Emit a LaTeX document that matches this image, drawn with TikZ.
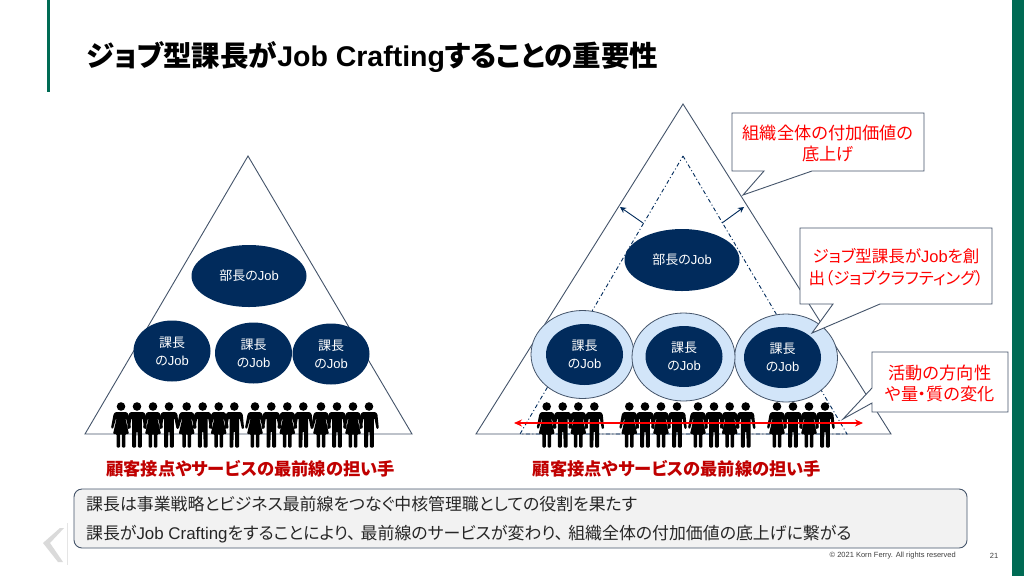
\documentclass[tikz,border=0pt]{standalone}
\usepackage{fontspec}
\setmainfont{Liberation Sans}
\newfontfamily\jpfont[RawFeature=+palt]{Noto Sans CJK JP}
\usetikzlibrary{shapes.geometric, arrows.meta, positioning}
\newcommand{\jt}[1]{{\jpfont #1}}
\newcommand{\fsz}[2]{\fontsize{#1}{#2}\selectfont}
\definecolor{kfgreen}{HTML}{006B54}
\definecolor{slateline}{HTML}{44546A}
\definecolor{navyjob}{HTML}{012B5C}
\definecolor{ringblue}{HTML}{D2E5F9}
\definecolor{darkred}{HTML}{C00000}
\definecolor{boxgray}{HTML}{F2F2F2}
\definecolor{chevgray}{HTML}{DADADA}
\tikzset{
    manfig/.pic={
        \fill[black] (0,0) circle (4.3);
        \fill[black, rounded corners=1pt] (-6.5,5.5) -- (6.5,5.5) -- (8.4,7.5) -- (9.8,22) -- (7.6,22.6) -- (5.4,11.5) -- (4.8,11.5) -- (4.8,41) -- (0.9,41) -- (0.7,25) -- (-0.7,25) -- (-0.9,41) -- (-4.8,41) -- (-4.8,11.5) -- (-5.4,11.5) -- (-7.6,22.6) -- (-9.8,22) -- (-8.4,7.5) -- cycle;
    },
    womanfig/.pic={
        \fill[black] (0,0) circle (4.3);
        \fill[black, rounded corners=1pt] (-5.5,5.5) -- (5.5,5.5) -- (7.4,7.5) -- (10,21.5) -- (8,22.5) -- (5,12) -- (4.4,12) -- (8,27.5) -- (4.4,27.5) -- (4.4,41) -- (0.9,41) -- (0.9,27.5) -- (-0.9,27.5) -- (-0.9,41) -- (-4.4,41) -- (-4.4,27.5) -- (-8,27.5) -- (-4.4,12) -- (-5,12) -- (-8,22.5) -- (-10,21.5) -- (-7.4,7.5) -- cycle;
    }
}
\begin{document}
\begin{tikzpicture}[
    x=1pt, y=-1pt,
    pyramid/.style={draw=slateline, line width=0.9pt, line join=miter},
    innerpyramid/.style={draw=navyjob, line width=0.9pt, dash pattern=on 4pt off 2.5pt on 1pt off 2.5pt},
    growarrow/.style={-{Stealth[length=6pt, width=6pt]}, draw=navyjob, line width=0.9pt},
    jobellipse/.style={ellipse, fill=navyjob, text=white, inner sep=0pt, align=center, font=\fsz{13}{18}},
    ringellipse/.style={ellipse, draw=slateline, fill=ringblue, line width=0.8pt, inner sep=0pt, minimum width=103pt, minimum height=88pt},
    frontlabel/.style={text=darkred, font=\fsz{17.3}{20}\bfseries},
    calloutbox/.style={draw=slateline, fill=white, line width=0.9pt, line join=miter},
    callouttext/.style={text=red, align=center, font=\fsz{17.2}{21.5}},
    summaryline/.style={anchor=west, inner sep=0pt, text=black!85, font=\fsz{16.9}{20}}
]
    \useasboundingbox (0,0) rectangle (1024,576);
    \fill[white] (0,0) rectangle (1024,576);

    % slide frame
    \fill[kfgreen] (47,0) rectangle (49.7,92);
    \fill[kfgreen] (1012,0) rectangle (1024,576);
    \node[anchor=west, inner sep=0pt, font=\fsz{28.5}{30}\bfseries] (title) at (86,57) {\jt{ジョブ型課長が}Job Crafting\jt{することの重要性}};

    % left pyramid
    \coordinate (ltop) at (248,156);
    \coordinate (lleft) at (85,434);
    \coordinate (lright) at (412,434);
    \draw[pyramid] (ltop) -- (lright) -- (lleft) -- cycle;
    \node[jobellipse, minimum width=115pt, minimum height=62pt] (lbucho) at (249,276) {\jt{部長の}Job};
    \node[jobellipse, minimum width=77pt, minimum height=61pt] (lka1) at (172,351) {\jt{課長}\\\jt{の}Job};
    \node[jobellipse, minimum width=77pt, minimum height=61pt] (lka2) at (253.5,353) {\jt{課長}\\\jt{の}Job};
    \node[jobellipse, minimum width=77pt, minimum height=61pt] (lka3) at (331,354) {\jt{課長}\\\jt{の}Job};
    \foreach \px in {121,153,186.7,218.7,255,287.3,321,353}
        \pic at (\px,406.5) {womanfig};
    \foreach \px in {137,169,202.7,234.3,271.3,303.3,337,369}
        \pic at (\px,406.5) {manfig};
    \node[frontlabel] (llabel) at (250.5,469) {\jt{顧客接点やサービスの最前線の担い手}};

    % right pyramid
    \coordinate (rtop) at (683,104);
    \coordinate (rleft) at (476,434);
    \coordinate (rright) at (891,434);
    \draw[pyramid] (rtop) -- (rright) -- (rleft) -- cycle;
    \coordinate (itop) at (683,156);
    \coordinate (ileft) at (520,434);
    \coordinate (iright) at (847,434);
    \draw[innerpyramid] (itop) -- (iright) -- (ileft) -- cycle;
    \coordinate (gl1) at (643,223);
    \coordinate (gl2) at (620,207);
    \coordinate (gr1) at (722,223);
    \coordinate (gr2) at (744,207);
    \draw[growarrow] (gl1) -- (gl2);
    \draw[growarrow] (gr1) -- (gr2);
    \node[jobellipse, minimum width=115pt, minimum height=62pt] (rbucho) at (682,260) {\jt{部長の}Job};
    \node[ringellipse] (ring1) at (582.5,354.5) {};
    \node[ringellipse] (ring3) at (786,358) {};
    \node[ringellipse] (ring2) at (683.5,357) {};
    \node[jobellipse, minimum width=77pt, minimum height=61pt] (rka1) at (584.5,354.5) {\jt{課長}\\\jt{の}Job};
    \node[jobellipse, minimum width=77pt, minimum height=61pt] (rka2) at (684,356.5) {\jt{課長}\\\jt{の}Job};
    \node[jobellipse, minimum width=77pt, minimum height=61pt] (rka3) at (782.5,357.5) {\jt{課長}\\\jt{の}Job};
    \foreach \px in {546.7,578.3,629.3,661,698,729.7,777,809}
        \pic at (\px,406.5) {womanfig};
    \foreach \px in {562.7,594.3,645,677,714,745.7,793,825}
        \pic at (\px,406.5) {manfig};
    \coordinate (redl) at (514,423);
    \coordinate (redr) at (863,423);
    \draw[{Stealth[length=8pt, width=7pt]}-{Stealth[length=8pt, width=7pt]}, draw=red, line width=1.2pt] (redl) -- (redr);
    \node[frontlabel] (rlabel) at (677,469) {\jt{顧客接点やサービスの最前線の担い手}};

    % callouts
    \draw[calloutbox] (732,113) -- (924,113) -- (924,171) -- (812,171) -- (743,195) -- (764,171) -- (732,171) -- cycle;
    \node[callouttext] (call1) at (828,143.5) {\jt{組織全体の付加価値の}\\\jt{底上げ}};
    \draw[calloutbox] (800,228) -- (992,228) -- (992,304) -- (880,304) -- (812,333) -- (833,304) -- (800,304) -- cycle;
    \node[callouttext, font=\fsz{16.5}{21.5}] (call2) at (896,267) {\jt{ジョブ型課長が}Job\jt{を創}\\\jt{出（ジョブクラフティング）}};
    \draw[calloutbox] (872,352) -- (1008,352) -- (1008,412) -- (872,412) -- (872,403) -- (843,419) -- (872,388) -- cycle;
    \node[callouttext] (call3) at (940,383.5) {\jt{活動の方向性}\\\jt{や量・質の変化}};

    % summary box
    \node[draw=slateline, fill=boxgray, rounded corners=8pt, line width=0.9pt, minimum width=893pt, minimum height=59pt, inner sep=0pt] (summary) at (520.5,518.5) {};
    \node[summaryline] (sum1) at (86,504) {\jt{課長は事業戦略とビジネス最前線をつなぐ中核管理職としての役割を果たす}};
    \node[summaryline] (sum2) at (86,534) {\jt{課長が}Job Crafting\jt{をすることにより、\hspace{5pt}最前線のサービスが変わり、\hspace{5pt}組織全体の付加価値の底上げに繋がる}};

    % footer
    \fill[chevgray] (60,528) -- (43,543) -- (58,562) -- (63,562) -- (50,543) -- (64,528) -- cycle;
    \draw[chevgray!70, line width=0.5pt] (67.7,523) -- (67.7,565);
    \node[anchor=east, inner sep=0pt, text=black!75, font=\fsz{7.5}{8}] (copy) at (956,556) {© 2021 Korn Ferry. All rights reserved};
    \node[inner sep=0pt, text=black!75, font=\fsz{7.5}{8}] (pageno) at (994,556) {21};
\end{tikzpicture}
\end{document}
